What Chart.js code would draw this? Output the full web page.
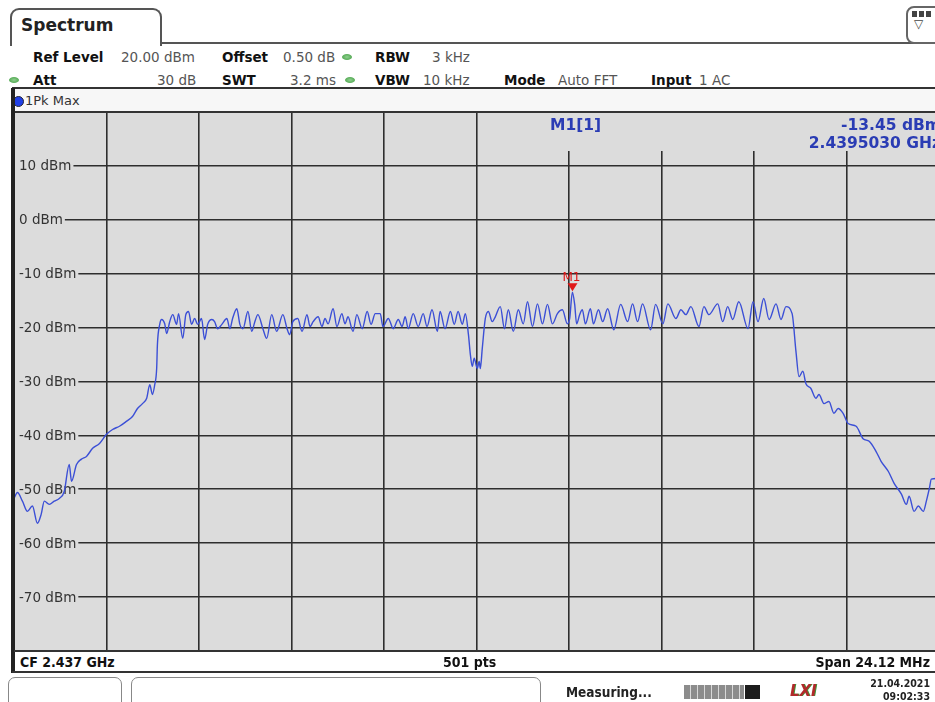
<!DOCTYPE html>
<html>
<head>
<meta charset="utf-8">
<script src="https://cdn.jsdelivr.net/npm/chart.js@4.4.1/dist/chart.umd.min.js"></script>
<style>
html, body { margin: 0; padding: 0; background: #fff; width: 935px; height: 702px; overflow: hidden; position: relative;
             font-family: "DejaVu Sans", Verdana, sans-serif; }
.abs  { position: absolute; white-space: nowrap; }
.hd   { font-size: 13.5px; line-height: 16px; }
.lbl  { font-weight: bold; color: #111; }
.val  { color: #555; }
.dot  { position: absolute; width: 10px; height: 6px; border-radius: 50%; background: radial-gradient(#8fd08f, #3c9a3c); }
.cond { font-family: "DejaVu Sans Condensed", "Liberation Sans Narrow", "DejaVu Sans", sans-serif; font-stretch: condensed; }
.bar  { position: absolute; background: #333; }
.mk   { font-weight: bold; color: #2a3cb4; font-size: 15.5px; line-height: 18px; }
#plot { position: absolute; left: 14px; top: 112px; width: 925px; height: 539px; }
</style>
</head>
<body>

<!-- ===== header ===== -->
<div class="abs" style="left:10px;top:8px;width:148px;height:36px;border:2px solid #555;border-bottom:none;border-radius:9px 9px 0 0;"></div>
<div class="abs lbl" style="left:21px;top:15px;font-size:17px;line-height:20px;color:#222;">Spectrum</div>
<div class="bar" style="left:160px;top:42px;width:780px;height:2px;background:#555;"></div>
<div class="abs" style="left:906px;top:6px;width:34px;height:34px;border:2px solid #666;border-radius:8px;background:#fff;"></div>
<div class="abs" style="left:912px;top:11px;width:20px;height:6px;background:repeating-linear-gradient(90deg,#444 0 5px,#fff 5px 7px);"></div>
<div class="abs" style="left:914px;top:17px;font-size:12px;line-height:14px;color:#444;">▽</div>

<div class="abs hd lbl" style="left:33px;top:49px;">Ref Level</div>
<div class="abs hd val" style="left:121px;top:49px;">20.00 dBm</div>
<div class="abs hd lbl" style="left:222px;top:49px;">Offset</div>
<div class="abs hd val" style="left:283px;top:49px;">0.50 dB</div>
<div class="dot" style="left:342px;top:54px;"></div>
<div class="abs hd lbl" style="left:375px;top:49px;">RBW</div>
<div class="abs hd val" style="left:432px;top:49px;">3 kHz</div>

<div class="dot" style="left:9px;top:77px;"></div>
<div class="abs hd lbl" style="left:33px;top:72px;">Att</div>
<div class="abs hd val" style="left:157px;top:72px;">30 dB</div>
<div class="abs hd lbl" style="left:222px;top:72px;">SWT</div>
<div class="abs hd val" style="left:290px;top:72px;">3.2 ms</div>
<div class="dot" style="left:345px;top:77px;"></div>
<div class="abs hd lbl" style="left:375px;top:72px;">VBW</div>
<div class="abs hd val" style="left:423px;top:72px;">10 kHz</div>
<div class="abs hd lbl" style="left:504px;top:72px;">Mode</div>
<div class="abs hd val" style="left:558px;top:72px;">Auto FFT</div>
<div class="abs hd lbl" style="left:651px;top:72px;">Input</div>
<div class="abs hd val" style="left:699px;top:72px;">1 AC</div>

<div class="bar" style="left:12px;top:87px;width:930px;height:2px;"></div>

<!-- ===== trace panel ===== -->
<div class="abs" style="left:14px;top:89px;width:925px;height:23px;background:#f7f7f7;"></div>
<div class="abs" style="left:13px;top:96px;width:9px;height:9px;border-radius:50%;background:#1f3fe6;border:1px solid #223;"></div>
<div class="abs" style="left:25px;top:93px;font-size:13px;line-height:16px;color:#333;">1Pk Max</div>

<div id="plot"><canvas id="chart" width="925" height="539"></canvas></div>

<div class="bar" style="left:14px;top:111px;width:925px;height:2px;"></div>
<div class="bar" style="left:11px;top:88px;width:4px;height:585px;background:#222;"></div>

<div class="abs mk" id="mkName" style="left:550px;top:116px;"></div>
<div class="abs mk" id="mkLevel" style="right:-6px;top:116px;"></div>
<div class="abs mk" id="mkFreq" style="right:-6px;top:134px;"></div>

<!-- ===== footer ===== -->
<div class="bar" style="left:14px;top:650px;width:925px;height:2px;"></div>
<div class="abs cond" id="ftCf"   style="left:20px;top:653px;font-size:14px;line-height:18px;font-weight:bold;color:#111;"></div>
<div class="abs cond" id="ftPts"  style="left:443px;top:653px;font-size:14px;line-height:18px;font-weight:bold;color:#111;"></div>
<div class="abs cond" id="ftSpan" style="right:5px;top:653px;font-size:14px;line-height:18px;font-weight:bold;color:#111;"></div>
<div class="bar" style="left:12px;top:671px;width:930px;height:2px;"></div>

<!-- ===== status bar ===== -->
<div class="abs" style="left:8px;top:677px;width:112px;height:30px;border:1.5px solid #888;border-radius:7px;"></div>
<div class="abs" style="left:131px;top:677px;width:408px;height:30px;border:1.5px solid #888;border-radius:7px;"></div>
<div class="abs cond" style="left:566px;top:684px;font-size:13.5px;line-height:16px;font-weight:bold;color:#222;">Measuring...</div>
<div class="abs" style="left:684px;top:685px;width:60px;height:14px;background:repeating-linear-gradient(90deg,#8c8c8c 0 6px,#d8d8d8 6px 7px);"></div>
<div class="abs" style="left:745px;top:685px;width:15px;height:14px;background:#1c1c1c;"></div>
<div class="abs" style="left:790px;top:682px;font-size:15px;line-height:18px;font-weight:bold;font-style:italic;color:#b02a2a;text-shadow:1px 0 #3c9a3c;">LXI</div>
<div class="abs cond" style="right:5px;top:677px;font-size:10.5px;line-height:12px;font-weight:bold;color:#222;">21.04.2021</div>
<div class="abs cond" style="right:5px;top:690px;font-size:10.5px;line-height:12px;font-weight:bold;color:#222;">09:02:33</div>

<script>
// ===================================================== DATA ===================================================== //

const cfGHz = 2.437, spanMHz = 24.12, tracePts = 501;

// frequency offset from CF (MHz) and level (dBm)
const offsetMHz = [
  -12.06, -11.97, -11.84, -11.71, -11.58, -11.45, -11.35, -11.27, -11.14, -11.01, -10.88, -10.75, -10.62, -10.56,
  -10.43, -10.30, -10.17, -10.01, -9.83, -9.65, -9.49, -9.31, -9.13, -8.97, -8.84, -8.71, -8.60, -8.52, -8.45,
  -8.39, -8.34, -8.32, -8.26, -8.21, -8.13, -8.08, -8.00, -7.92, -7.82, -7.77, -7.66, -7.58, -7.51, -7.43, -7.35,
  -7.27, -7.17, -7.09, -7.01, -6.90, -6.83, -6.75, -6.64, -6.51, -6.43, -6.36, -6.25, -6.17, -6.09, -5.96, -5.86,
  -5.78, -5.70, -5.57, -5.47, -5.34, -5.21, -5.05, -4.94, -4.87, -4.79, -4.66, -4.55, -4.42, -4.34, -4.26, -4.13,
  -4.03, -3.95, -3.87, -3.74, -3.64, -3.51, -3.43, -3.35, -3.22, -3.12, -2.98, -2.85, -2.75, -2.64, -2.51, -2.44,
  -2.30, -2.17, -2.04, -1.94, -1.86, -1.78, -1.65, -1.52, -1.39, -1.29, -1.16, -1.02, -0.95, -0.82, -0.68, -0.58,
  -0.48, -0.37, -0.29, -0.21, -0.16, -0.11, -0.06, 0.02, 0.07, 0.10, 0.15, 0.23, 0.31, 0.41, 0.49, 0.62, 0.73,
  0.83, 0.96, 1.09, 1.22, 1.33, 1.46, 1.59, 1.72, 1.85, 1.98, 2.11, 2.24, 2.37, 2.43, 2.50, 2.56, 2.61, 2.69,
  2.76, 2.84, 2.97, 3.05, 3.18, 3.29, 3.42, 3.58, 3.76, 3.94, 4.07, 4.20, 4.33, 4.54, 4.67, 4.86, 4.99, 5.20,
  5.33, 5.46, 5.59, 5.80, 5.93, 6.06, 6.29, 6.42, 6.55, 6.68, 6.84, 7.08, 7.21, 7.34, 7.49, 7.63, 7.81, 7.94,
  8.07, 8.23, 8.33, 8.41, 8.51, 8.59, 8.72, 8.85, 8.93, 9.06, 9.19, 9.32, 9.43, 9.56, 9.69, 9.90, 10.08, 10.24,
  10.42, 10.55, 10.74, 10.89, 11.08, 11.21, 11.28, 11.41, 11.52, 11.65, 11.73, 11.81, 11.86, 11.99, 12.06
];
const levelDbm = [
  -51.7, -50.6, -52.2, -54.1, -53.1, -56.3, -54.6, -52.2, -52.8, -52.2, -51.7, -50.4, -45.4, -48.5,
  -45.4, -44.4, -43.9, -42.4, -41.5, -39.8, -38.9, -38.3, -37.4, -36.5, -35.0, -34.1, -33.1, -30.6, -32.4,
  -30.6, -27.6, -23.1, -19.4, -18.5, -19.3, -21.1, -18.9, -17.6, -19.4, -17.4, -22.0, -17.6, -17.0, -19.4, -18.3,
  -19.4, -18.3, -22.2, -19.4, -18.5, -18.9, -20.2, -19.4, -18.3, -20.2, -18.3, -16.5, -19.4, -20.2, -17.0, -20.7,
  -18.9, -17.6, -20.2, -22.0, -17.6, -20.7, -17.6, -20.2, -21.3, -18.9, -18.3, -20.7, -17.6, -19.8, -18.9, -18.0,
  -19.8, -18.3, -19.3, -16.5, -19.8, -17.4, -19.3, -18.0, -20.7, -17.6, -20.2, -17.0, -19.4, -17.4, -17.4, -19.8,
  -18.3, -20.2, -18.5, -19.8, -18.0, -20.2, -17.4, -19.8, -17.4, -19.8, -16.7, -20.7, -17.0, -20.2, -17.0, -19.4,
  -17.0, -19.4, -17.4, -21.3, -25.0, -27.2, -25.7, -27.6, -26.3, -27.6, -23.9, -18.3, -17.0, -18.9, -18.0, -16.1, -20.2,
  -16.7, -20.7, -16.7, -19.3, -15.2, -19.8, -15.6, -19.3, -15.7, -19.3, -17.4, -16.7, -19.3, -18.3, -13.45, -15.7, -19.3, -17.6,
  -16.7, -19.3, -16.5, -19.3, -16.7, -18.9, -16.5, -20.4, -15.7, -18.9, -15.6, -18.9, -15.6, -20.4, -15.7, -19.3, -15.6, -18.3,
  -16.7, -17.6, -16.1, -19.8, -16.1, -17.6, -15.6, -18.9, -16.1, -18.5, -15.2, -20.2, -15.2, -18.9, -14.6, -18.5, -15.6, -18.5,
  -16.1, -17.4, -24.4, -29.1, -28.1, -30.4, -31.3, -33.1, -32.4, -34.1, -33.7, -35.9, -35.0, -35.9, -37.8, -38.3, -40.6, -41.1,
  -43.0, -44.8, -46.7, -48.9, -50.9, -52.8, -51.3, -54.1, -53.1, -54.1, -52.2, -49.8, -48.1, -48.0, -48.0
];

const yTicks = [10, 0, -10, -20, -30, -40, -50, -60, -70];
const refLevel = 20, bottomLevel = -80, xDivisions = 10;

// marker M1
const markerOffsetMHz = 2.503, markerDbm = -13.45;

// ==================================================== TEXTS ==================================================== //

document.getElementById('mkName').textContent  = 'M1[1]';
document.getElementById('mkLevel').textContent = markerDbm.toFixed(2) + ' dBm';
document.getElementById('mkFreq').textContent  = (cfGHz + markerOffsetMHz / 1000).toFixed(7) + ' GHz';
document.getElementById('ftCf').textContent    = 'CF ' + cfGHz.toFixed(3) + ' GHz';
document.getElementById('ftPts').textContent   = tracePts + ' pts';
document.getElementById('ftSpan').textContent  = 'Span ' + spanMHz.toFixed(2) + ' MHz';

// ==================================================== CHART ==================================================== //

const plotBg = '#dcdcdc', gridCol = '#2e2e2e';

const screenPlugin = {
  id: 'screen',
  beforeDraw(chart) {
    const {ctx, chartArea: a} = chart;
    ctx.save();
    ctx.fillStyle = plotBg;
    ctx.fillRect(a.left, a.top, a.right - a.left, a.bottom - a.top);
    ctx.restore();
  },
  beforeDatasetsDraw(chart) {
    const {ctx, chartArea: a, scales: {x, y}} = chart;
    ctx.save();
    // marker info strip hides the grid in the top right
    ctx.fillStyle = plotBg;
    ctx.fillRect(x.getPixelForValue(0) + 1.5, a.top + 1, a.right - x.getPixelForValue(0), 38);
    // level labels sit on the grid lines
    ctx.font = '13.5px "DejaVu Sans", sans-serif';
    ctx.textBaseline = 'middle';
    yTicks.forEach(v => {
      const py = y.getPixelForValue(v), txt = v + ' dBm', w = ctx.measureText(txt).width;
      ctx.fillStyle = plotBg;
      ctx.fillRect(a.left + 1, py - 3, w + 6, 6);
      ctx.fillStyle = '#333';
      ctx.fillText(txt, a.left + 5, py + 1);
    });
    ctx.restore();
  },
  afterDatasetsDraw(chart) {
    const {ctx, scales: {x, y}} = chart;
    const px = x.getPixelForValue(markerOffsetMHz), py = y.getPixelForValue(markerDbm);
    ctx.save();
    ctx.fillStyle = '#e01818';
    ctx.beginPath();
    ctx.moveTo(px - 5, py - 9);
    ctx.lineTo(px + 5, py - 9);
    ctx.lineTo(px, py - 1);
    ctx.closePath();
    ctx.fill();
    ctx.font = '12px "DejaVu Sans", sans-serif';
    ctx.textAlign = 'center';
    ctx.textBaseline = 'alphabetic';
    ctx.fillText('M1', px - 1, py - 11);
    ctx.restore();
  }
};

new Chart(document.getElementById('chart'), {
  type: 'line',
  data: {
    datasets: [{
      data: offsetMHz.map((f, i) => ({x: f, y: levelDbm[i]})),
      borderColor: '#3b4fd6',
      borderWidth: 1.4,
      pointRadius: 0,
      cubicInterpolationMode: 'monotone'
    }]
  },
  options: {
    responsive: false,
    animation: false,
    layout: {padding: 0},
    plugins: {legend: {display: false}, tooltip: {enabled: false}},
    scales: {
      x: {
        type: 'linear',
        min: -spanMHz / 2, max: spanMHz / 2,
        afterBuildTicks: s => { s.ticks = Array.from({length: xDivisions + 1}, (_, i) => ({value: -spanMHz / 2 + i * spanMHz / xDivisions})); },
        ticks: {display: false},
        grid: {color: gridCol, lineWidth: 1.6, drawTicks: false},
        border: {display: false}
      },
      y: {
        min: bottomLevel, max: refLevel,
        ticks: {display: false, stepSize: 10},
        grid: {color: gridCol, lineWidth: 1.6, drawTicks: false},
        border: {display: false}
      }
    }
  },
  plugins: [screenPlugin]
});
</script>
</body>
</html>
